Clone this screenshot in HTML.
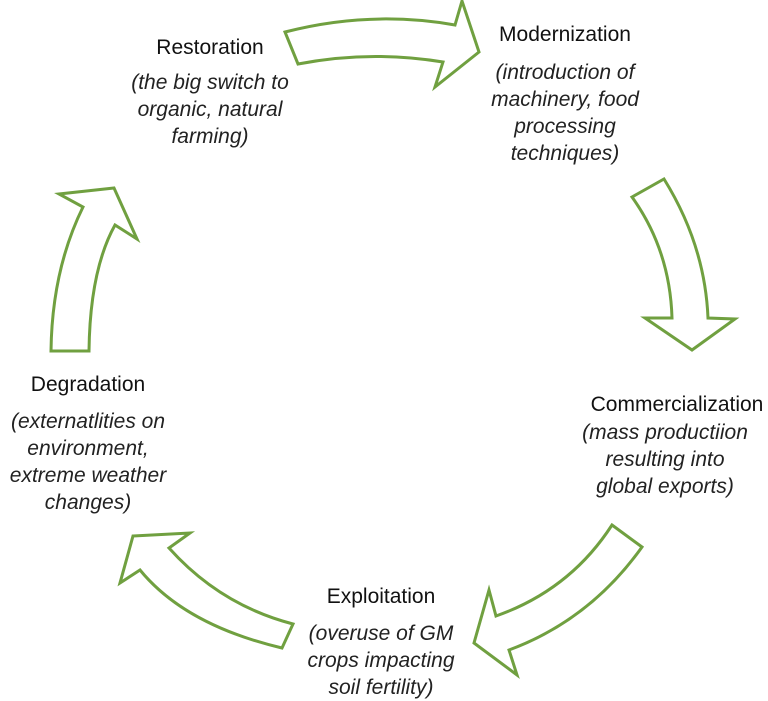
<!DOCTYPE html>
<html><head><meta charset="utf-8"><style>
html,body{margin:0;padding:0;background:#fff;}
body{width:768px;height:699px;position:relative;overflow:hidden;font-family:"Liberation Sans",sans-serif;color:#111;}
.t{position:absolute;text-align:center;font-size:21px;line-height:26px;white-space:nowrap;transform:translateX(-50%);}
.i{position:absolute;text-align:center;font-size:21px;font-style:italic;line-height:27px;white-space:nowrap;transform:translateX(-50%);color:#222;}
svg{position:absolute;left:0;top:0;}
</style></head><body>
<svg width="768" height="699" viewBox="0 0 768 699">
<g fill="#fff" stroke="#70a040" stroke-width="3" stroke-linejoin="miter">
<path d="M285,32 Q370,10 455,25 L462,1 L479,52 L435,87 L443,62 Q370,50 298,64 Z"/>
<path d="M632,197 L664,179 Q705,245 708,318 L735,319 L692,350 L645,318 L672,318 Q670,250 632,197 Z"/>
<path d="M612,525 L642,547 Q590,620 509,650 L517,675 L474,643 L489,590 L496,616 Q570,590 612,525 Z"/>
<path d="M133,536 L190,533 L169,548 Q220,605 293,624 L282,648 Q185,625 140,570 L120,583 Z"/>
<path d="M51,351 L89,351 Q90,270 115,225 L137,239 L114,188 L59,194 L83,207 Q52,270 51,351 Z"/>
</g>
</svg>
<div class="t" style="left:210px;top:35px;">Restoration</div>
<div class="i" style="left:210px;top:69px;">(the big switch to<br>organic, natural<br>farming)</div>
<div class="t" style="left:565px;top:22px;">Modernization</div>
<div class="i" style="left:565px;top:59px;">(introduction of<br>machinery, food<br>processing<br>techniques)</div>
<div class="t" style="left:677px;top:392px;">Commercialization</div>
<div class="i" style="left:665px;top:419px;">(mass productiion<br>resulting into<br>global exports)</div>
<div class="t" style="left:381px;top:584px;">Exploitation</div>
<div class="i" style="left:381px;top:620px;">(overuse of GM<br>crops impacting<br>soil fertility)</div>
<div class="t" style="left:88px;top:372px;">Degradation</div>
<div class="i" style="left:88px;top:408px;">(externatlities on<br>environment,<br>extreme weather<br>changes)</div>
</body></html>
